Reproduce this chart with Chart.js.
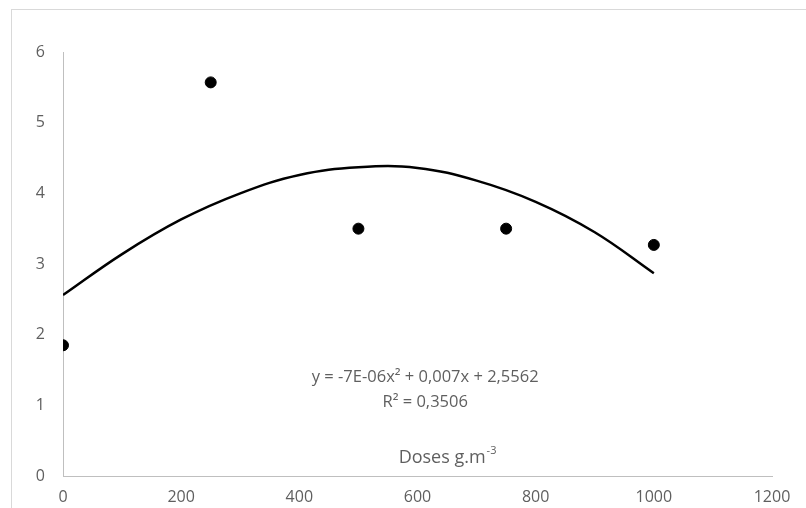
<!DOCTYPE html>
<html>
<head>
<meta charset="utf-8">
<script src="https://cdn.jsdelivr.net/npm/chart.js@4/dist/chart.umd.min.js"></script>
<style>
  html, body { margin:0; padding:0; background:#fff; overflow:hidden; }
  #wrap { position:relative; width:806px; height:508px; }
  #frame { position:absolute; left:11px; top:9px; width:820px; height:520px; border-left:1px solid #d9d9d9; border-top:1px solid #d9d9d9; }
  canvas { position:absolute; left:0; top:0; }
</style>
</head>
<body>
<div id="wrap">
  <div id="frame"></div>
  <canvas id="myChart" width="806" height="508"></canvas>
</div>
<script>
// observed points
var doses = [0, 250, 500, 750, 1000];
var values = [1.85, 5.57, 3.5, 3.5, 3.27];

// trend curve
var curveX = [0, 100, 200, 300, 400, 500, 600, 700, 800, 900, 1000];
var curveY = [2.56, 3.14, 3.63, 4.0, 4.26, 4.37, 4.36, 4.18, 3.88, 3.45, 2.87];

var xTicks = [0, 200, 400, 600, 800, 1000, 1200];
var yTicks = [0, 1, 2, 3, 4, 5, 6];

var equationText = 'y = -7E-06x² + 0,007x + 2,5562';
var r2Text = 'R² = 0,3506';
var axisTitle = 'Doses g.m';
var axisTitleSup = '-3';

var txtColor = '#5f5f5f';
var fontFam = "'Open Sans', sans-serif";

var pontos = doses.map(function (d, i) { return { x: d, y: values[i] }; });
var curva = curveX.map(function (d, i) { return { x: d, y: curveY[i] }; });

// equation + axis title drawn inside the plot
var textos = {
  id: 'textos',
  afterDraw: function (chart) {
    var ctx = chart.ctx;
    var xs = chart.scales.x, ys = chart.scales.y;
    ctx.save();
    ctx.fillStyle = txtColor;
    ctx.textBaseline = 'middle';
    ctx.textAlign = 'center';
    ctx.font = '16.5px ' + fontFam;
    var cx = xs.getPixelForValue(613);
    ctx.fillText(equationText, cx, ys.getPixelForValue(1.39));
    ctx.fillText(r2Text, cx, ys.getPixelForValue(1.05));

    ctx.font = '18px ' + fontFam;
    var w1 = ctx.measureText(axisTitle).width;
    ctx.font = '11px ' + fontFam;
    var w2 = ctx.measureText(axisTitleSup).width;
    var tx = xs.getPixelForValue(650) - (w1 + w2) / 2;
    var ty = ys.getPixelForValue(0.25);
    ctx.textAlign = 'left';
    ctx.font = '18px ' + fontFam;
    ctx.fillText(axisTitle, tx, ty);
    ctx.font = '11px ' + fontFam;
    ctx.fillText(axisTitleSup, tx + w1 + 1, ty - 7);
    ctx.restore();
  }
};

var ctx = document.getElementById('myChart').getContext('2d');
var myChart = new Chart(ctx, {
  type: 'scatter',
  data: {
    datasets: [
      {
        label: 'pontos',
        data: pontos,
        backgroundColor: '#000',
        borderColor: '#000',
        pointRadius: 5.5,
        showLine: false
      },
      {
        label: 'tendencia',
        data: curva,
        borderColor: '#000',
        borderWidth: 2.5,
        pointRadius: 0,
        showLine: true,
        tension: 0.4,
        fill: false
      }
    ]
  },
  options: {
    responsive: false,
    animation: false,
    layout: { padding: { left: 0, right: 34, top: 52, bottom: 0 } },
    plugins: {
      legend: { display: false },
      tooltip: { enabled: false }
    },
    scales: {
      x: {
        type: 'linear',
        min: 0,
        max: 1200,
        afterBuildTicks: function (s) { s.ticks = xTicks.map(function (v) { return { value: v }; }); },
        afterFit: function (s) { s.height = 32; },
        grid: { display: false, drawTicks: false },
        border: { display: true, color: '#bfbfbf', width: 1 },
        ticks: {
          color: txtColor, font: { family: fontFam, size: 16 }, padding: 12, maxRotation: 0,
          callback: function (v) { return String(v); }
        }
      },
      y: {
        min: 0,
        max: 6,
        afterBuildTicks: function (s) { s.ticks = yTicks.map(function (v) { return { value: v }; }); },
        afterFit: function (s) { s.width = 63; },
        grid: { display: false, drawTicks: false },
        border: { display: true, color: '#bfbfbf', width: 1 },
        ticks: { color: txtColor, font: { family: fontFam, size: 16 }, padding: 18 }
      }
    }
  },
  plugins: [textos]
});
</script>
</body>
</html>
